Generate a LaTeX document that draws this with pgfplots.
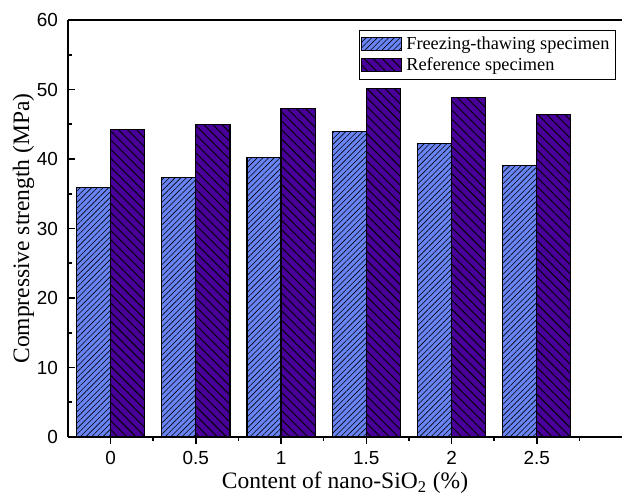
\documentclass[border=0pt]{standalone}
\usepackage{fontspec}
\setmainfont{Liberation Serif}
\newfontfamily\arial{Liberation Sans}
\usepackage{pgfplots}
\pgfplotsset{compat=1.18}
\usetikzlibrary{patterns.meta}
\definecolor{fbl}{RGB}{105,132,245}
\definecolor{rpu}{RGB}{72,0,152}
\begin{document}
\begin{tikzpicture}
\begin{axis}[
  name=ax,
  scale only axis,
  width=277bp, height=208.5bp,
  xmin=-0.5, xmax=6, ymin=0, ymax=60,
  axis x line*=box, axis y line*=left,
  xtick pos=bottom,
  axis line style={line width=1bp},
  xtick={0,1,2,3,4,5},
  xticklabels={0,0.5,1,1.5,2,2.5},
  minor xtick={0.5,1.5,2.5,3.5,4.5,5.5},
  ytick={0,10,20,30,40,50,60},
  minor ytick={5,15,25,35,45,55},
  tick align=inside,
  major tick length=3.5bp, minor tick length=2bp,
  tick style={black, line width=0.8bp},
  /pgf/number format/assume math mode=true,
  ticklabel style={font=\arial\fontsize{9.5}{11}\selectfont},
  yticklabel style={xshift=-1.5bp},
  xticklabel style={yshift=0bp},
  xlabel={Content of nano-SiO\textsubscript{2} (\%)},
  ylabel={Compressive strength (MPa)},
  label style={font=\fontsize{11.8}{13}\selectfont},
  xlabel style={yshift=3bp},
  ylabel style={yshift=-5.5bp},
  ybar=0pt, bar width=0.4,
  legend style={at={(rel axis cs:1,1)}, anchor=north east, xshift=-3bp, yshift=-5bp,
    draw=black, line width=0.6bp, font=\fontsize{9.2}{10}\selectfont,
    inner sep=1bp, row sep=-1.5pt, cells={anchor=west}},
  legend image code/.code={\draw[#1, line width=0.6bp] (0bp,-3bp) rectangle (20bp,3.5bp);},
]
\addplot[draw=black, line width=0.6bp, fill=fbl,
  postaction={pattern={Lines[angle=45,distance=2bp,line width=0.3bp]}}]
  coordinates {(0,35.9) (1,37.3) (2,40.2) (3,43.9) (4,42.2) (5,39.1)};
\addplot[draw=black, line width=0.6bp, fill=rpu,
  postaction={pattern={Lines[angle=-45,distance=3.2bp,line width=0.45bp]}}]
  coordinates {(0,44.2) (1,45.0) (2,47.3) (3,50.1) (4,48.8) (5,46.4)};
\legend{Freezing-thawing specimen, Reference specimen}
\end{axis}
\pgfresetboundingbox
\path ([xshift=-34bp,yshift=-31.5bp]ax.south west) rectangle ([yshift=10bp]ax.north east);
\end{tikzpicture}
\end{document}
